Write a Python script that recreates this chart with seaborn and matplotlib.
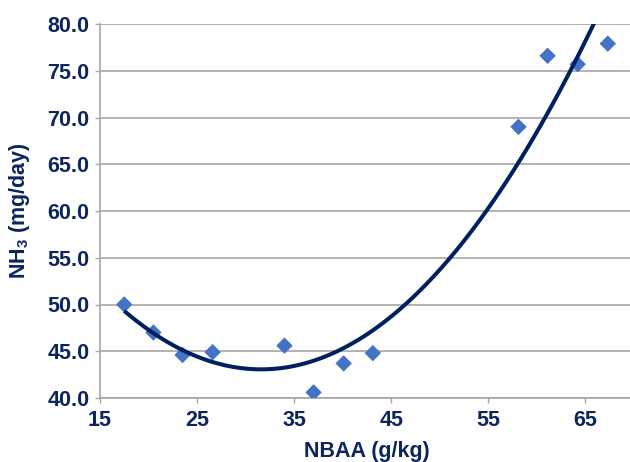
import matplotlib
matplotlib.use("Agg")
import matplotlib.pyplot as plt
import pandas as pd
import seaborn as sns

# NBAA (g/kg) vs NH3 emission (mg/day)
nbaa = [17.5, 20.5, 23.5, 26.6, 34.0, 37.0, 40.1, 43.1, 58.1, 61.1, 64.2, 67.3]
nh3 = [50.0, 47.0, 44.6, 44.9, 45.6, 40.6, 43.7, 44.8, 69.0, 76.6, 75.7, 77.9]
x_ticks = [15, 25, 35, 45, 55, 65]
y_ticks = [40, 45, 50, 55, 60, 65, 70, 75, 80]

TEXT = "#0c255c"
LINE = "#002060"
MARK = "#4472c4"
GRID = "#a6a6a6"

sns.set_theme(style="white")
plt.rcParams["font.family"] = ["Liberation Sans", "DejaVu Sans"]
plt.rcParams["font.weight"] = "bold"
plt.rcParams["mathtext.fontset"] = "custom"
plt.rcParams["mathtext.bf"] = "Liberation Sans:bold"
plt.rcParams["mathtext.rm"] = "Liberation Sans:bold"
plt.rcParams["mathtext.default"] = "bf"

df = pd.DataFrame({"nbaa": nbaa, "nh3": nh3})

fig = plt.figure(figsize=(6.3, 4.62), dpi=100)
ax = fig.add_axes([100 / 630, 64 / 462, 534 / 630, 374 / 462])

sns.regplot(
    data=df, x="nbaa", y="nh3", order=2, ci=None, ax=ax,
    marker="D",
    scatter_kws={"s": 70, "color": MARK, "edgecolor": "none", "alpha": 1, "zorder": 3},
    line_kws={"color": LINE, "lw": 2.9, "zorder": 4, "solid_capstyle": "butt"},
)

ax.set_xlim(15, 70)
ax.set_ylim(40, 80)
ax.set_xticks(x_ticks)
ax.set_yticks(y_ticks)
ax.set_yticklabels([f"{v:.1f}" for v in y_ticks])
ax.yaxis.grid(True, color=GRID, lw=1.2)
ax.set_axisbelow(True)

for side in ["top", "right"]:
    ax.spines[side].set_visible(False)
for side in ["left", "bottom"]:
    ax.spines[side].set_color(GRID)
    ax.spines[side].set_linewidth(1.2)

ax.tick_params(axis="both", which="major", direction="out", length=3.6, width=1,
               color=GRID, labelcolor=TEXT, labelsize=15.5)
ax.tick_params(axis="x", pad=5)
ax.tick_params(axis="y", pad=4, left=True)
ax.tick_params(axis="x", bottom=True)

ax.set_xlabel("NBAA (g/kg)", fontsize=15.5, fontweight="bold", color=TEXT)
ax.set_ylabel("NH$_{3}$ (mg/day)", fontsize=15.5, fontweight="bold", color=TEXT)
ax.xaxis.set_label_coords(0.5, -0.115)
ax.yaxis.set_label_coords(-0.128, 0.5)

fig.savefig("out.png", dpi=100)
